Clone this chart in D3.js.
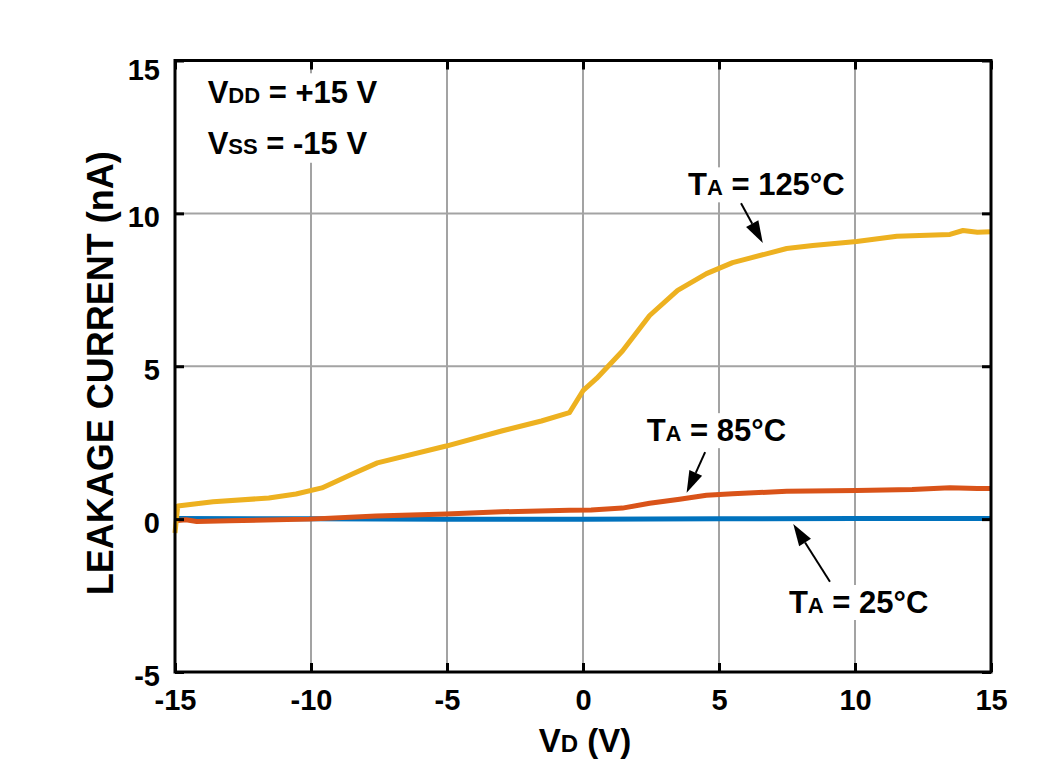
<!DOCTYPE html>
<html>
<head>
<meta charset="utf-8">
<script src="https://d3js.org/d3.v7.min.js"></script>
<style>
  body { margin: 0; background: #fff; }
  text { font-family: Arial, "Liberation Sans", sans-serif; font-weight: bold; fill: #000; }
</style>
</head>
<body>
<svg width="1040" height="780"></svg>
<script>
// tick values
var xTicks = [-15, -10, -5, 0, 5, 10, 15];
var yTicks = [-5, 0, 5, 10, 15];

// TA = 125 C
var vd125 = [-15, -14.9, -13.6, -11.55, -10.55, -9.6, -8.5, -7.56, -5.03, -2.96, -1.53, -0.5, 0, 0.5, 1.45, 2.45, 3.48, 4.54, 5.5, 7.49, 8.45, 10.06, 11.54, 13.49, 13.97, 14.5, 15];
var ia125 = [-0.45, 0.43, 0.57, 0.69, 0.82, 1.02, 1.47, 1.84, 2.39, 2.89, 3.21, 3.48, 4.2, 4.6, 5.5, 6.66, 7.48, 8.03, 8.39, 8.85, 8.95, 9.08, 9.25, 9.31, 9.44, 9.38, 9.4];

// TA = 85 C
var vd85 = [-15, -14.6, -14.2, -13, -10.07, -7.6, -5.03, -3, -0.5, 0.3, 1.45, 2.45, 3.55, 4.54, 5.5, 7.49, 10.06, 12.1, 13.49, 14.5, 15];
var ia85 = [-0.05, -0.02, -0.08, -0.05, 0, 0.1, 0.17, 0.24, 0.29, 0.3, 0.36, 0.52, 0.65, 0.78, 0.83, 0.91, 0.94, 0.97, 1.03, 1.0, 1.0];

// TA = 25 C
var vd25 = [-15, -10, -5, 0, 5, 10, 15];
var ia25 = [0.02, 0.01, 0.0, 0.0, 0.01, 0.02, 0.02];

var svg = d3.select("svg");

var x = d3.scaleLinear().domain([-15, 15]).range([175, 991]);
var y = d3.scaleLinear().domain([-5, 15]).range([672, 60.5]);

// grid
svg.append("g").selectAll("line")
  .data(xTicks.slice(1, -1))
  .enter().append("line")
    .attr("x1", function(d) { return x(d); })
    .attr("x2", function(d) { return x(d); })
    .attr("y1", y(15)).attr("y2", y(-5))
    .attr("stroke", "#a3a3a3").attr("stroke-width", 2);

svg.append("g").selectAll("line")
  .data(yTicks.slice(1, -1))
  .enter().append("line")
    .attr("y1", function(d) { return y(d); })
    .attr("y2", function(d) { return y(d); })
    .attr("x1", x(-15)).attr("x2", x(15))
    .attr("stroke", "#a3a3a3").attr("stroke-width", 2);

// annotation labels (with white boxes behind them)
var ann = svg.append("g");

function tLabel(g, main, sub, rest, px, py) {
  var t = g.append("text").attr("x", px).attr("y", py).style("font-size", "31px");
  t.append("tspan").text(main);
  t.append("tspan").style("font-size", "22px").text(sub);
  t.append("tspan").text(rest);
  return t;
}

function boxBehind(g, pad) {
  var b = g.node().getBBox();
  g.insert("rect", ":first-child")
    .attr("x", b.x - pad).attr("y", b.y - pad + 4)
    .attr("width", b.width + 2 * pad).attr("height", b.height + 2 * pad - 8)
    .attr("fill", "#fff");
}

var gSupply = ann.append("g");
tLabel(gSupply, "V", "DD", " = +15 V", x(-13.8), y(13.6));
tLabel(gSupply, "V", "SS", " = -15 V", x(-13.8), y(11.95));
boxBehind(gSupply, 6);

var g125 = ann.append("g");
tLabel(g125, "T", "A", " = 125\u00b0C", x(3.86), y(10.59));
boxBehind(g125, 4);

var g85 = ann.append("g");
tLabel(g85, "T", "A", " = 85\u00b0C", x(2.34), y(2.55));
boxBehind(g85, 4);

var g25 = ann.append("g");
tLabel(g25, "T", "A", " = 25\u00b0C", x(7.57), y(-3.07));
boxBehind(g25, 4);

// curves
var line = d3.line()
  .x(function(d) { return x(d[0]); })
  .y(function(d) { return y(d[1]); });

var series = [
  { vd: vd25, ia: ia25, color: "#0072BD" },
  { vd: vd85, ia: ia85, color: "#D95319" },
  { vd: vd125, ia: ia125, color: "#EDB120" }
];

svg.append("g").selectAll("path")
  .data(series)
  .enter().append("path")
    .attr("d", function(s) { return line(d3.zip(s.vd, s.ia)); })
    .attr("fill", "none")
    .attr("stroke", function(s) { return s.color; })
    .attr("stroke-width", 5)
    .attr("stroke-linejoin", "round");

// arrows
function arrow(x0, y0, x1, y1) {
  var ax = x(x0), ay = y(y0), bx = x(x1), by = y(y1);
  var dx = bx - ax, dy = by - ay, len = Math.sqrt(dx * dx + dy * dy);
  var ux = dx / len, uy = dy / len;
  var hl = 22, hw = 7;
  var baseX = bx - ux * hl, baseY = by - uy * hl;
  svg.append("line")
    .attr("x1", ax).attr("y1", ay).attr("x2", baseX).attr("y2", baseY)
    .attr("stroke", "#000").attr("stroke-width", 2);
  svg.append("polygon")
    .attr("points", [
      [bx, by],
      [baseX - uy * hw, baseY + ux * hw],
      [baseX + uy * hw, baseY - ux * hw]
    ].map(function(p) { return p.join(","); }).join(" "))
    .attr("fill", "#000");
}
arrow(5.81, 10.33, 6.61, 9.03);
arrow(4.49, 2.19, 3.81, 0.86);
arrow(9.08, -2.05, 7.73, -0.16);

// axes (plain hyphen for negatives, like the original)
var fmt = function(d) { return String(d); };

var xAxis = svg.append("g")
  .attr("transform", "translate(0," + y(-5) + ")")
  .call(d3.axisBottom(x).tickValues(xTicks).tickFormat(fmt)
    .tickSizeInner(-9).tickSizeOuter(0).tickPadding(17));

var yAxis = svg.append("g")
  .attr("transform", "translate(" + x(-15) + ",0)")
  .call(d3.axisLeft(y).tickValues(yTicks).tickFormat(fmt)
    .tickSizeInner(-9).tickSizeOuter(0).tickPadding(15));

svg.append("g")
  .attr("transform", "translate(0," + y(15) + ")")
  .call(d3.axisTop(x).tickValues(xTicks).tickSizeInner(-9).tickSizeOuter(0).tickFormat(""));

svg.append("g")
  .attr("transform", "translate(" + x(15) + ",0)")
  .call(d3.axisRight(y).tickValues(yTicks).tickSizeInner(-9).tickSizeOuter(0).tickFormat(""));

svg.selectAll(".domain").remove();
svg.selectAll(".tick line").attr("stroke", "#000").attr("stroke-width", 3);
svg.selectAll(".tick text")
  .attr("fill", "#000")
  .style("font-family", "Arial, 'Liberation Sans', sans-serif")
  .style("font-weight", "bold")
  .style("font-size", "29px");
yAxis.selectAll(".tick text")
  .attr("dy", "0.32em")
  .attr("y", function(d) { return d === 15 ? 10 : 4; });

// frame
svg.append("rect")
  .attr("x", x(-15)).attr("y", y(15))
  .attr("width", x(15) - x(-15)).attr("height", y(-5) - y(15))
  .attr("fill", "none").attr("stroke", "#000").attr("stroke-width", 3);

// axis titles
var xt = svg.append("text")
  .attr("x", x(0) + 2).attr("y", 752)
  .attr("text-anchor", "middle")
  .style("font-size", "33px");
xt.append("tspan").text("V");
xt.append("tspan").style("font-size", "24px").text("D");
xt.append("tspan").text(" (V)");

svg.append("text")
  .attr("transform", "translate(113," + (y(5) + 7) + ") rotate(-90)")
  .attr("text-anchor", "middle")
  .style("font-size", "36px")
  .text("LEAKAGE CURRENT (nA)");
</script>
</body>
</html>
